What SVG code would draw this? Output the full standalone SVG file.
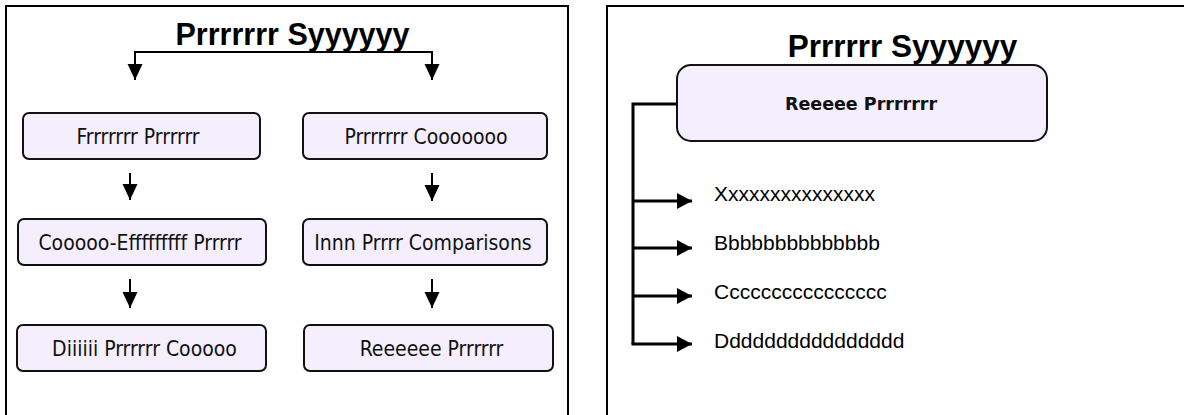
<svg xmlns="http://www.w3.org/2000/svg" width="1184" height="415" viewBox="0 0 1184 415">
<style>
.panel{fill:#fff;stroke:#000;stroke-width:2}
.box{fill:#f4eefd;stroke:#111;stroke-width:2}
.title{font-family:"Liberation Sans",Arial,sans-serif;font-weight:bold;font-size:30.5px;fill:#000;text-anchor:middle}
.lbl{font-family:"DejaVu Sans Condensed","DejaVu Sans",sans-serif;font-stretch:condensed;font-size:21px;fill:#111;text-anchor:middle}
.blbl{font-family:"DejaVu Sans",sans-serif;font-weight:bold;font-size:17.5px;fill:#111;text-anchor:middle}
.item{font-family:"Liberation Sans",Arial,sans-serif;font-size:21px;fill:#000}
.conn{fill:none;stroke:#000;stroke-width:2}
.conn3{fill:none;stroke:#000;stroke-width:3}
</style>
<defs>
<marker id="ah" markerUnits="userSpaceOnUse" markerWidth="17" markerHeight="16" refX="16" refY="7.5" orient="auto">
<path d="M0,0 L16,7.5 L0,15 Z" fill="#000"/>
</marker>
<marker id="ah2" markerUnits="userSpaceOnUse" markerWidth="16" markerHeight="17" refX="15" refY="8" orient="auto">
<path d="M0,0 L15,8 L0,16 Z" fill="#000"/>
</marker>
</defs>

<rect class="panel" x="6" y="6" width="562" height="420"/>
<rect class="panel" x="607" y="6" width="600" height="420"/>

<g id="title-left"><text class="title" x="292.5" y="45">Prrrrrrr Syyyyyy</text></g>
<g id="title-right"><text class="title" x="902.5" y="57" style="font-size:31.5px">Prrrrrr Syyyyyy</text></g>

<g id="connectors">
<path class="conn" d="M135,52 L432,52"/>
<path class="conn" d="M135,51 L135,80" marker-end="url(#ah)"/>
<path class="conn" d="M432,51 L432,80" marker-end="url(#ah)"/>
<path class="conn" d="M130,173 L130,200" marker-end="url(#ah)"/>
<path class="conn" d="M130,279 L130,308" marker-end="url(#ah)"/>
<path class="conn" d="M432,173 L432,201" marker-end="url(#ah)"/>
<path class="conn" d="M432,279 L432,308" marker-end="url(#ah)"/>
<path class="conn3" d="M677,104 L633,104 L633,344"/>
<path class="conn3" d="M633,201 L692,201" marker-end="url(#ah2)"/>
<path class="conn3" d="M633,248 L692,248" marker-end="url(#ah2)"/>
<path class="conn3" d="M633,296 L692,296" marker-end="url(#ah2)"/>
<path class="conn3" d="M631.5,344 L692,344" marker-end="url(#ah2)"/>
</g>

<g id="n-frr"><rect class="box" x="23" y="113" width="237" height="46" rx="6"/><text class="lbl" x="138" y="143.5">Frrrrrrr Prrrrrr</text></g>
<g id="n-coo"><rect class="box" x="18" y="219" width="248" height="46" rx="6"/><text class="lbl" x="140" y="249.5">Cooooo-Efffffffff Prrrrr</text></g>
<g id="n-dii"><rect class="box" x="17" y="325" width="249" height="46" rx="6"/><text class="lbl" x="144.5" y="355.5">Diiiiii Prrrrrr Cooooo</text></g>
<g id="n-prr"><rect class="box" x="303" y="113" width="244" height="46" rx="6"/><text class="lbl" x="426" y="143.5">Prrrrrrr Cooooooo</text></g>
<g id="n-inn"><rect class="box" x="303" y="219" width="244" height="46" rx="6"/><text class="lbl" x="423" y="249.5">Innn Prrrr Comparisons</text></g>
<g id="n-ree"><rect class="box" x="304" y="325" width="249" height="46" rx="6"/><text class="lbl" x="431.5" y="355.5">Reeeeee Prrrrrr</text></g>

<g id="n-reeeee"><rect class="box" x="677" y="65" width="370" height="76" rx="14"/><text class="blbl" x="861" y="110">Reeeee Prrrrrrr</text></g>

<g id="n-x"><text class="item" x="714" y="201">Xxxxxxxxxxxxxxx</text></g>
<g id="n-b"><text class="item" x="714" y="250">Bbbbbbbbbbbbbb</text></g>
<g id="n-c"><text class="item" x="714" y="299">Cccccccccccccccc</text></g>
<g id="n-d"><text class="item" x="714" y="347.5">Dddddddddddddddd</text></g>
</svg>
